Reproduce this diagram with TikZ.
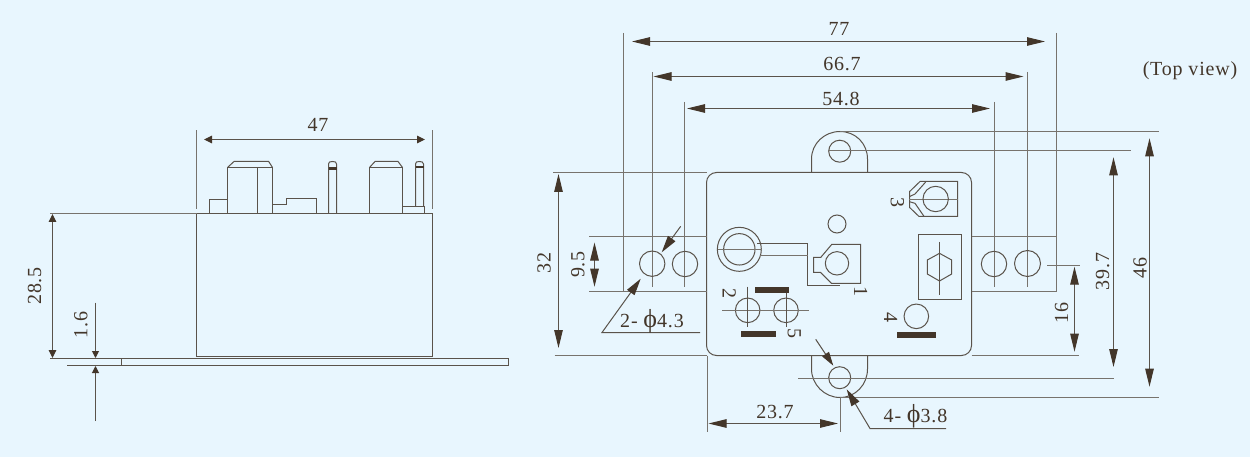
\documentclass[tikz,border=0pt]{standalone}
\usepackage{fontspec}
\setmainfont[LetterSpace=4]{Liberation Serif}
\usetikzlibrary{arrows.meta}
\definecolor{bgc}{HTML}{E8F6FE}
\definecolor{ink}{HTML}{5A534B}
\definecolor{pale}{HTML}{77736D}
\definecolor{tip}{HTML}{43362A}
\newcommand{\phisym}{{\fontsize{26}{26}\selectfont ϕ}}
\tikzset{
  part/.style={draw=ink,line width=1pt,line join=miter},
  ext/.style={draw=pale,line width=1pt},
  dimb/.style={draw=ink,line width=1pt,{Triangle[length=18pt,width=8.5pt,fill=tip,color=tip]}-{Triangle[length=18pt,width=8.5pt,fill=tip,color=tip]}},
  dimc/.style={draw=ink,line width=1pt,{Triangle[length=8pt,width=7.5pt,fill=tip,color=tip]}-{Triangle[length=8pt,width=7.5pt,fill=tip,color=tip]}},
  lead/.style={draw=ink,line width=1pt,-{Triangle[length=17pt,width=9pt,fill=tip,color=tip]}},
  leadc/.style={draw=ink,line width=1pt,-{Triangle[length=7pt,width=7pt,fill=tip,color=tip]}},
  lbl/.style={text=tip,inner sep=0pt,font=\fontsize{20}{20}\selectfont},
  lblv/.style={lbl,rotate=90},
  lbln/.style={lbl,rotate=-90},
  bar/.style={fill=tip,draw=none}
}
\begin{document}
\begin{tikzpicture}[x=1pt,y=-1pt]
\fill[bgc] (0,0) rectangle (1250,457);
\useasboundingbox (0,0) rectangle (1250,457);

% ---------- side view ----------
\draw[part] (196.5,213.5) rectangle (432.5,356.5);
\draw[ext] (196.5,130.5) -- (196.5,209.5);
\draw[ext] (432.5,130.5) -- (432.5,209.5);
\draw[ext] (50,213.5) -- (196.5,213.5);
\draw[part] (50,358.5) -- (508.5,358.5) -- (508.5,365.5) -- (67,365.5);
\draw[part] (121.5,358.5) -- (121.5,365.5);
\draw[dimc] (204,139.5) -- (425,139.5);
\draw[dimc] (52.5,214) -- (52.5,358);
\draw[leadc] (95.5,302.5) -- (95.5,358);
\draw[leadc] (95.5,421) -- (95.5,366);
\node[lbl] (t47) at (318,125) {47};
\node[lblv] (t285) at (34.5,286) {28.5};
\node[lblv] (t16a) at (81,325) {1.6};

\draw[part] (209.5,213.5) |- (227.5,199.5) -- (227.5,213.5);
\draw[part] (227.5,213.5) -- (227.5,167.5) -- (272.5,167.5) -- (272.5,213.5);
\draw[part] (227.5,167.5) -- (234,161.5) -- (268.7,161.5) -- (272.5,167.5);
\draw[part] (257.5,167.5) -- (257.5,213.5);
\draw[part] (272.5,204.5) -- (286.5,204.5) -- (286.5,198.5) -- (316.5,198.5) -- (316.5,213.5);
\draw[part] (328.5,213.5) -- (328.5,164) .. controls (328.5,162) and (330,161.5) .. (332.5,161.5) .. controls (335,161.5) and (336.5,162) .. (336.5,164) -- (336.5,213.5);
\fill[tip] (328.5,167) rectangle (336.5,170);
\draw[part] (369.5,213.5) -- (369.5,167.5) -- (402.5,167.5) -- (402.5,213.5);
\draw[part] (369.5,167.5) -- (375,161.5) -- (398,161.5) -- (402.5,167.5);
\draw[part] (402.5,206.5) -- (424.5,206.5) -- (424.5,213.5);
\draw[part] (415.5,206.5) -- (415.5,164) .. controls (415.5,162) and (417,161.5) .. (419.3,161.5) .. controls (421.5,161.5) and (423.5,162) .. (423.5,164) -- (423.5,206.5);
\fill[tip] (415.5,166) rectangle (423.5,168.5);
\draw[part] (209.5,213.5) -- (424.5,213.5);

% ---------- top view: outline ----------
\draw[part,rounded corners=10pt] (706.5,172.5) rectangle (971.5,355.5);
\draw[part] (811.5,172.5) -- (811.5,159) .. controls (811.5,143.5) and (824.5,131.5) .. (840,131.5) .. controls (855.5,131.5) and (867.5,143.5) .. (867.5,159) -- (867.5,172.5);
\draw[part] (811.5,355.5) -- (811.5,369) .. controls (811.5,384.5) and (824.5,397.5) .. (840,397.5) .. controls (855.5,397.5) and (867.5,384.5) .. (867.5,369) -- (867.5,355.5);
\draw[part] (839.7,151.2) circle[radius=11pt];
\draw[part] (839.7,377.7) circle[radius=11pt];

% extension lines
\draw[ext] (623.5,33) -- (623.5,291.5);
\draw[ext] (652.5,72) -- (652.5,286.7);
\draw[ext] (684.5,102) -- (684.5,286.7);
\draw[ext] (994.5,102) -- (994.5,286.7);
\draw[ext] (1027.5,72) -- (1027.5,286.7);
\draw[ext] (1056.5,33) -- (1056.5,291.5);
\draw[ext] (589,236.5) -- (706.5,236.5);
\draw[ext] (589,291.5) -- (706.5,291.5);
\draw[ext] (971.5,236.5) -- (1056.5,236.5);
\draw[ext] (971.5,291.5) -- (1056.5,291.5);
\draw[ext] (553,172.5) -- (706.5,172.5);
\draw[ext] (554.5,355.5) -- (706.5,355.5);
\draw[ext] (840,131.5) -- (1159,131.5);
\draw[ext] (828,150.5) -- (1130.5,150.5);
\draw[ext] (798,378.5) -- (1114,378.5);
\draw[ext] (840,397.5) -- (1159,397.5);
\draw[ext] (971.5,355.5) -- (1078.7,355.5);
\draw[ext] (1047,265.5) -- (1080,265.5);
\draw[ext] (707.5,355.5) -- (707.5,431.5);
\draw[ext] (840.5,397.5) -- (840.5,431.5);

% mounting holes
\draw[part] (652.2,263.7) circle[radius=12.7pt];
\draw[part] (685,264) circle[radius=12.7pt];
\draw[part] (994,264) circle[radius=12.7pt];
\draw[part] (1027.5,263.5) circle[radius=13pt];

% dimensions
\draw[dimb] (632,41.5) -- (1045,41.5);
\draw[dimb] (653.5,76.5) -- (1023.5,76.5);
\draw[dimb] (687,108.5) -- (990,108.5);
\draw[dimb] (558.5,174) -- (558.5,348);
\draw[dimb] (594.5,242.5) -- (594.5,286.7);
\draw[dimb] (708.5,423.5) -- (838,423.5);
\draw[dimb] (1074.5,266.7) -- (1074.5,351.7);
\draw[dimb] (1113.5,157.3) -- (1113.5,367);
\draw[dimb] (1149.5,138.3) -- (1149.5,386.7);
\node[lbl] (t77) at (839,29) {77};
\node[lbl] (t667) at (842,64.5) {66.7};
\node[lbl] (t548) at (841,98.5) {54.8};
\node[lblv] (t32) at (544,263) {32};
\node[lblv] (t95) at (578,264.5) {9.5};
\node[lblv] (t16) at (1061.7,313) {16};
\node[lblv] (t397) at (1102.7,271.5) {39.7};
\node[lblv] (t46) at (1140,268) {46};
\node[lbl] (t237) at (775,412) {23.7};
\node[lbl] (ttop) at (1190,71) {(Top view)};

% leaders
\draw[lead] (680.7,226.3) -- (661.7,252.3);
\draw[lead] (700,332.5) -- (602,332.5) -- (640.7,278.7);
\node[lbl,anchor=base] (tphia) at (652,327.5) {2- \phisym4.3};
\draw[draw=ink,line width=1pt,-{Triangle[length=14pt,width=8pt,fill=tip,color=tip]}] (815.7,339.3) -- (833.3,365.7);
\draw[lead] (946,428.5) -- (870,428.5) -- (846.7,389.3);
\node[lbl,anchor=base] (tphib) at (915.5,422.7) {4- \phisym3.8};

% ---------- interior, in 3x zoom coordinates ----------
\begin{scope}[shift={(700,120)},x=0.33333pt,y=-0.33333pt]
\draw[part] (411,312) circle[radius=9pt];
% ring and arm
\draw[part] (118,388) circle[radius=22pt];
\draw[part] (118,388) circle[radius=15.7pt];
\draw[ext] (53,388.5) -- (185,388.5);
\draw[part] (172,370.5) -- (322.5,370.5) -- (322.5,496.5) -- (420,496.5);
\draw[ext] (180,406.5) -- (322.5,406.5);
% terminal 1
\draw[part] (395,373.5) -- (481.5,373.5) -- (481.5,490.5) -- (395,490.5) -- (362,457.5) -- (340.5,457.5) -- (340.5,412.5) -- (362,412.5) -- cycle;
\draw[part] (411,430) circle[radius=11.7pt];
\node[lbln] (t1) at (482,515) {1};
% terminal 3
\draw[part] (772.5,184.5) -- (660,184.5) -- (628.5,215) -- (628.5,262) -- (657,289.5) -- (772.5,289.5) -- cycle;
\draw[part] (677,186) -- (645,222) -- (628,230);
\draw[part] (628,245) -- (645,250) -- (672,289);
\draw[ext] (628,238.5) -- (773,238.5);
\draw[part] (707,237) circle[radius=12.7pt];
\node[lbln] (t3) at (592,248) {3};
% relay symbol
\draw[part] (655.5,343.5) rectangle (784.5,538.5);
\draw[part] (718.5,400) -- (755,420) -- (755,462) -- (718.5,483) -- (682,462) -- (682,420) -- cycle;
\draw[part] (718.5,366) -- (718.5,526);
% terminal 4
\draw[part] (649,589) circle[radius=12.3pt];
\fill[bar] (591,635) rectangle (707,655);
\node[lbln] (t4) at (572,592) {4};
% terminals 2, 5
\draw[part] (143,571) circle[radius=12.3pt];
\draw[part] (258,571) circle[radius=12.3pt];
\draw[ext] (67,571.5) -- (327,571.5);
\draw[part] (142.5,500) -- (142.5,622);
\draw[part] (259.5,519) -- (259.5,622);
\fill[bar] (165,502) rectangle (268,519);
\fill[bar] (123,632) rectangle (227,650);
\node[lbln] (t2) at (88,522) {2};
\node[lbln] (t5) at (283,640) {5};
\end{scope}
\end{tikzpicture}
\end{document}
